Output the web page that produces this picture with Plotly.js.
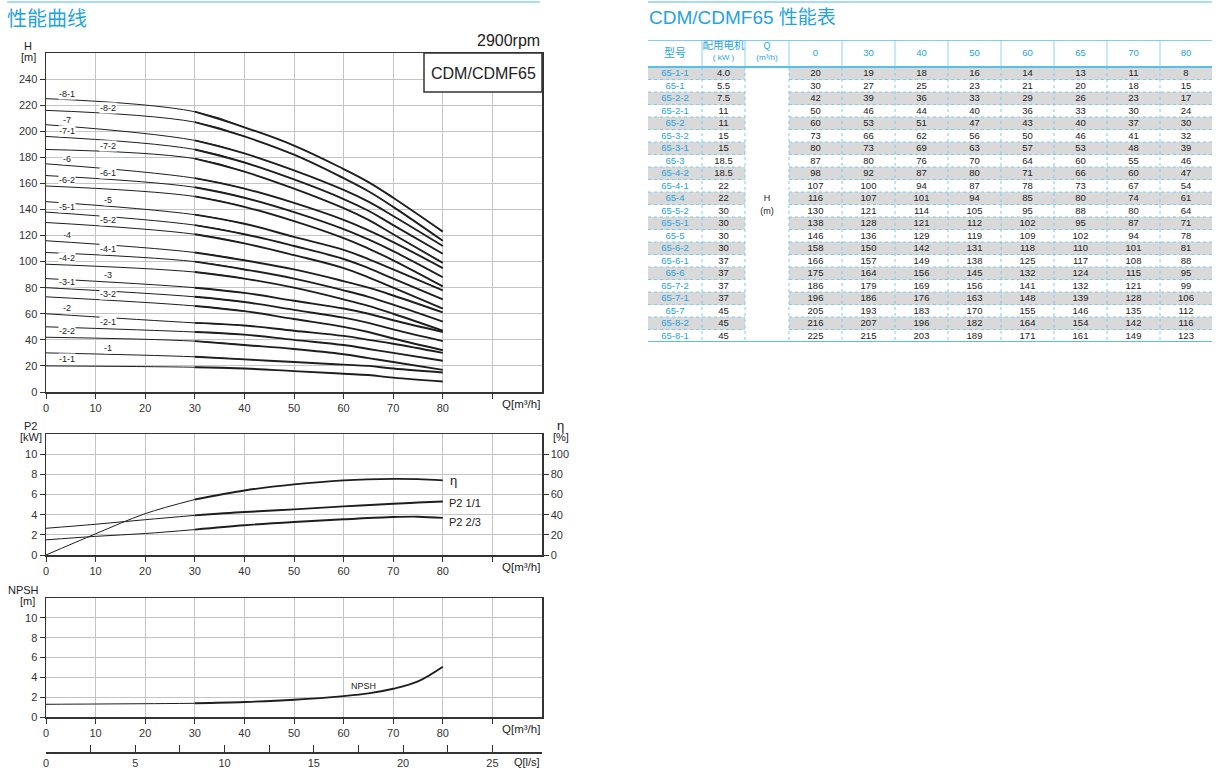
<!DOCTYPE html>
<html><head><meta charset="utf-8">
<script src="https://cdn.plot.ly/plotly-3.0.1.min.js"></script>
<style>html,body{margin:0;padding:0;background:#fff}#chart{width:1219px;height:782px}</style>
</head><body><div id="chart"></div>
<script>
// ---------------- DATA ----------------
const flowPoints = [0, 30, 40, 50, 60, 65, 70, 80];
const models = ['65-1-1','65-1','65-2-2','65-2-1','65-2','65-3-2','65-3-1','65-3','65-4-2','65-4-1','65-4','65-5-2','65-5-1','65-5','65-6-2','65-6-1','65-6','65-7-2','65-7-1','65-7','65-8-2','65-8-1'];
const motorKW = ['4.0','5.5','7.5','11','11','15','15','18.5','18.5','22','22','30','30','30','30','37','37','37','37','45','45','45'];
const h_65_1_1 = [20,19,18,16,14,13,11,8];
const h_65_1   = [30,27,25,23,21,20,18,15];
const h_65_2_2 = [42,39,36,33,29,26,23,17];
const h_65_2_1 = [50,46,44,40,36,33,30,24];
const h_65_2   = [60,53,51,47,43,40,37,30];
const h_65_3_2 = [73,66,62,56,50,46,41,32];
const h_65_3_1 = [80,73,69,63,57,53,48,39];
const h_65_3   = [87,80,76,70,64,60,55,46];
const h_65_4_2 = [98,92,87,80,71,66,60,47];
const h_65_4_1 = [107,100,94,87,78,73,67,54];
const h_65_4   = [116,107,101,94,85,80,74,61];
const h_65_5_2 = [130,121,114,105,95,88,80,64];
const h_65_5_1 = [138,128,121,112,102,95,87,71];
const h_65_5   = [146,136,129,119,109,102,94,78];
const h_65_6_2 = [158,150,142,131,118,110,101,81];
const h_65_6_1 = [166,157,149,138,125,117,108,88];
const h_65_6   = [175,164,156,145,132,124,115,95];
const h_65_7_2 = [186,179,169,156,141,132,121,99];
const h_65_7_1 = [196,186,176,163,148,139,128,106];
const h_65_7   = [205,193,183,170,155,146,135,112];
const h_65_8_2 = [216,207,196,182,164,154,142,116];
const h_65_8_1 = [225,215,203,189,171,161,149,123];
const headSeries = [h_65_1_1,h_65_1,h_65_2_2,h_65_2_1,h_65_2,h_65_3_2,h_65_3_1,h_65_3,h_65_4_2,h_65_4_1,h_65_4,h_65_5_2,h_65_5_1,h_65_5,h_65_6_2,h_65_6_1,h_65_6,h_65_7_2,h_65_7_1,h_65_7,h_65_8_2,h_65_8_1];
const labelColumn = ['A','B','A','B','A','B','A','B','A','B','A','B','A','B','A','B','A','B','A','A','B','A'];

const qPower = [0,10,20,30,40,50,60,70,75,80];
const etaPct = [0,21,41,55,64,70,74,75.5,75.2,74];
const p2Full = [2.65,3.05,3.5,3.93,4.26,4.52,4.82,5.08,5.2,5.31];
const p2TwoThird = [1.5,1.85,2.13,2.52,2.95,3.28,3.54,3.77,3.8,3.68];

const qNpsh = [0,10,20,30,40,50,60,65,70,75,80];
const npsh = [1.28,1.31,1.34,1.38,1.51,1.74,2.11,2.38,2.85,3.59,5.07];

const qTicks = [0,10,20,30,40,50,60,70,80];
const qMinorTicks = [90];
const lsTicks = [0,5,10,15,20,25];
const lsMinorTicks = [2.5,7.5,12.5,17.5,22.5];

const tableHeadTop = ['型号','配用电机','Q'];
const tableHeadSub = ['','( kW )','(m³/h)'];
const hUnitLabel = ['H','(m)'];

// ---------------- HELPERS ----------------
const W = 1219, HT = 782;
const px = x => x / W;
const py = y => 1 - y / HT;
const FONT = 'Liberation Sans, Arial, Noto Sans CJK SC, sans-serif';
const CJK = 'Noto Sans CJK SC, Liberation Sans, sans-serif';
const BLUE = '#1fa3e2';
const INK = '#1e1e1e';
const GRID = '#c4c4c4';
const SM = 1.15;

const upto = (xs, ys, lim) => { const a=[],b=[]; xs.forEach((x,i)=>{ if(x<=lim){a.push(x);b.push(ys[i]);} }); return [a,b]; };
const from = (xs, ys, lim) => { const a=[],b=[]; xs.forEach((x,i)=>{ if(x>=lim){a.push(x);b.push(ys[i]);} }); return [a,b]; };

const traces = [];
headSeries.forEach((hs) => {
  traces.push({type:'scatter', mode:'lines', x: flowPoints.slice(0,3), y: hs.slice(0,3), xaxis:'x', yaxis:'y',
    line:{color:INK, width:1, shape:'spline', smoothing:SM}, hoverinfo:'skip'});
  traces.push({type:'scatter', mode:'lines', x: flowPoints.slice(1), y: hs.slice(1), xaxis:'x', yaxis:'y',
    line:{color:INK, width:1.9, shape:'spline', smoothing:SM}, hoverinfo:'skip'});
});
function thinThick(xs, ys, xa, ya) {
  const [a1,b1] = upto(xs, ys, 30), [a2,b2] = from(xs, ys, 30);
  traces.push({type:'scatter', mode:'lines', x:a1, y:b1, xaxis:xa, yaxis:ya, line:{color:INK, width:1, shape:'spline'}, hoverinfo:'skip'});
  traces.push({type:'scatter', mode:'lines', x:a2, y:b2, xaxis:xa, yaxis:ya, line:{color:INK, width:1.9, shape:'spline'}, hoverinfo:'skip'});
}
thinThick(qPower, etaPct, 'x2', 'y3');
thinThick(qPower, p2Full, 'x2', 'y2');
thinThick(qPower, p2TwoThird, 'x2', 'y2');
thinThick(qNpsh, npsh, 'x3', 'y4');
traces.push({type:'scatter', mode:'lines', x: qNpsh.map(q => q/3.6), y: qNpsh.map(() => 0), xaxis:'x4', yaxis:'y5', line:{color:'rgba(0,0,0,0)', width:0}, hoverinfo:'skip'});

// ---------------- TABLE (cartesian) ----------------
const colW = [54,43,44,53,53,53,53,53,53,53,52];
const colEdges = [0]; colW.forEach(w => colEdges.push(colEdges[colEdges.length-1] + w));
const colMid = colW.map((w,j) => colEdges[j] + w/2);
const nRows = models.length;
const rowEdges = Array.from({length:nRows+1}, (_,i) => i);
const HEAD = 27/12.5;
const tableCols = [models, motorKW];
flowPoints.forEach((q, j) => tableCols.push(headSeries.map(h => String(h[j]))));
const tableColX = [colMid[0], colMid[1]].concat(flowPoints.map((q,j) => colMid[j+3]));
traces.push({type:'heatmap', xaxis:'x5', yaxis:'y6', x: colEdges, y: rowEdges,
  z: models.map((m,i) => colW.map((w,j) => (i % 2 === 0 && j !== 2) ? 1 : 0)),
  colorscale:[[0,'#ffffff'],[1,'#d9d9d9']], zmin:0, zmax:1, showscale:false, hoverinfo:'skip'});
tableCols.forEach((col, j) => {
  traces.push({type:'scatter', mode:'text', xaxis:'x5', yaxis:'y6', x: col.map(() => tableColX[j]), y: col.map((v,i) => i + 0.55),
    text: col, textposition:'middle center', cliponaxis:false,
    textfont:{family:FONT, size:9.5, color: j===0 ? BLUE : '#222'}, hoverinfo:'skip'});
});
traces.push({type:'scatter', mode:'text', xaxis:'x5', yaxis:'y6', x:[colMid[2], colMid[2]], y:[10.55, 11.55], text:hUnitLabel,
  textfont:{family:FONT, size:9, color:'#222'}, cliponaxis:false, hoverinfo:'skip'});
const headerNums = flowPoints.map(String);
traces.push({type:'scatter', mode:'text', xaxis:'x5', yaxis:'y6', x: headerNums.map((v,k) => colMid[k+3]), y: headerNums.map(() => -1.05),
  text: headerNums, textfont:{family:FONT, size:9.5, color:BLUE}, cliponaxis:false, hoverinfo:'skip'});
traces.push({type:'scatter', mode:'text', xaxis:'x5', yaxis:'y6', x:[colMid[0]], y:[-1.05], text:[tableHeadTop[0]],
  textfont:{family:CJK, size:11, color:BLUE}, cliponaxis:false, hoverinfo:'skip'});
traces.push({type:'scatter', mode:'text', xaxis:'x5', yaxis:'y6', x:[colMid[1], colMid[2]], y:[-1.62,-1.62], text:[tableHeadTop[1], tableHeadTop[2]],
  textfont:{family:CJK, size:[10.5,9.5], color:BLUE}, cliponaxis:false, hoverinfo:'skip'});
traces.push({type:'scatter', mode:'text', xaxis:'x5', yaxis:'y6', x:[colMid[1], colMid[2]], y:[-0.7,-0.7], text:[tableHeadSub[1], tableHeadSub[2]],
  textfont:{family:FONT, size:8, color:BLUE}, cliponaxis:false, hoverinfo:'skip'});

// ---------------- LAYOUT ----------------
const xBase = {domain:[px(46), px(542)], range:[0,100], tickvals:qTicks,
  minor:{tickvals:qMinorTicks, ticks:'outside', ticklen:5, tickcolor:'#333', showgrid:true, gridcolor:GRID, gridwidth:1},
  ticks:'outside', ticklen:5, tickcolor:'#333', showline:true, linecolor:'#333', linewidth:1.5, mirror:true,
  showgrid:true, gridcolor:GRID, gridwidth:1, zeroline:false, tickfont:{family:FONT, size:11, color:'#333'}, fixedrange:true};
const yBase = {ticks:'outside', ticklen:5, tickcolor:'#333', showline:true, linecolor:'#333', linewidth:1.5, mirror:true,
  showgrid:true, gridcolor:GRID, gridwidth:1, zeroline:false, tickfont:{family:FONT, size:11, color:'#333'}, fixedrange:true};

const ann = [];
const txt = (x, y, text, size, opts={}) => ann.push(Object.assign({xref:'paper', yref:'paper', x:px(x), y:py(y), text,
  showarrow:false, font:{family:FONT, size, color:'#222'}, xanchor:'center', yanchor:'middle'}, opts));

txt(5, 18, '性能曲线', 20, {xanchor:'left', font:{family:CJK, size:20, color:BLUE}});
txt(647, 18, 'CDM/CDMF65 性能表', 19, {xanchor:'left', font:{family:'Liberation Sans, Noto Sans CJK SC', size:19, color:BLUE}});
txt(28, 46, 'H', 11);
txt(28, 57, '[m]', 11);
txt(542, 41, '2900rpm', 16, {xanchor:'right'});
txt(483, 73, 'CDM/CDMF65', 16);
txt(542, 404, 'Q[m³/h]', 11.5, {xanchor:'right'});
txt(30, 426, 'P2', 11);
txt(31, 437, '[kW]', 11);
txt(560, 425, 'η', 13);
txt(561, 437, '[%]', 11);
txt(542, 567, 'Q[m³/h]', 11.5, {xanchor:'right'});
txt(23, 590, 'NPSH', 11);
txt(27, 601, '[m]', 11);
txt(542, 729, 'Q[m³/h]', 11.5, {xanchor:'right'});
txt(542, 762, 'Q[l/s]', 11, {xanchor:'right'});

headSeries.forEach((hs, i) => {
  const q = labelColumn[i] === 'A' ? 4.3 : 12.5;
  const h = hs[0] + (hs[1] - hs[0]) * q / 30;
  ann.push({xref:'x', yref:'y', x:q, y:h, yshift:7, text: models[i].replace('65',''), showarrow:false,
    font:{family:FONT, size:9, color:'#222'}, bgcolor:'#ffffff', borderpad:0, xanchor:'center', yanchor:'middle'});
});
const last = a => a[a.length-1];
ann.push({xref:'x2', yref:'y3', x:81, y:last(etaPct), text:'η', showarrow:false, xanchor:'left', yanchor:'middle', font:{family:FONT, size:13, color:'#222'}});
ann.push({xref:'x2', yref:'y2', x:80.8, y:last(p2Full), yshift:-2, text:'P2 1/1', showarrow:false, xanchor:'left', yanchor:'middle', font:{family:FONT, size:11, color:'#222'}});
ann.push({xref:'x2', yref:'y2', x:80.8, y:last(p2TwoThird), yshift:-4, text:'P2 2/3', showarrow:false, xanchor:'left', yanchor:'middle', font:{family:FONT, size:11, color:'#222'}});
ann.push({xref:'x3', yref:'y4', x:64, y:npsh[7], yshift:7, text:'NPSH', showarrow:false, xanchor:'center', yanchor:'middle', font:{family:FONT, size:9, color:'#222'}});

const shapes = [
  {type:'line', xref:'paper', yref:'paper', x0:px(7), x1:px(540), y0:py(2), y1:py(2), line:{color:'#a8dcf5', width:2}},
  {type:'line', xref:'paper', yref:'paper', x0:px(648), x1:px(1212), y0:py(2), y1:py(2), line:{color:'#a8dcf5', width:2}},
  {type:'rect', xref:'paper', yref:'paper', x0:px(424), x1:px(542), y0:py(92), y1:py(53), line:{color:'#333', width:1.5}, fillcolor:'#ffffff', layer:'above'},
  {type:'line', xref:'x3', yref:'y4', x0:0, x1:100, y0:8, y1:8, line:{color:'#e2e2e2', width:1.2}, layer:'below'}
];
const TL = '#8fd3f2', TD = '#7fcaf0';
for (let j = 1; j < colEdges.length - 1; j++) {
  shapes.push({type:'line', xref:'x5', yref:'y6', x0:colEdges[j], x1:colEdges[j], y0:-HEAD, y1:0, line:{color:TL, width:1}, layer:'above'});
  shapes.push({type:'line', xref:'x5', yref:'y6', x0:colEdges[j], x1:colEdges[j], y0:0, y1:nRows, line:{color:TD, width:1, dash:'dot'}, layer:'above'});
}
for (let i = 1; i < nRows; i++) {
  shapes.push({type:'line', xref:'x5', yref:'y6', x0:0, x1:colEdges[2], y0:i, y1:i, line:{color:TD, width:1, dash:'dot'}, layer:'above'});
  shapes.push({type:'line', xref:'x5', yref:'y6', x0:colEdges[3], x1:colEdges[colEdges.length-1], y0:i, y1:i, line:{color:TD, width:1, dash:'dot'}, layer:'above'});
}
[[-HEAD,1.5],[0,2],[nRows,2]].forEach(([yv,w]) => shapes.push({type:'line', xref:'x5', yref:'y6', x0:0, x1:colEdges[colEdges.length-1], y0:yv, y1:yv, line:{color:'#56bfec', width:w}, layer:'above'}));

const layout = {
  width:W, height:HT, margin:{l:0, r:0, t:0, b:0}, paper_bgcolor:'#fff', plot_bgcolor:'#fff', showlegend:false,
  xaxis: Object.assign({}, xBase, {anchor:'y'}),
  yaxis: Object.assign({}, yBase, {domain:[py(392), py(53)], range:[0,260], tickvals:[0,20,40,60,80,100,120,140,160,180,200,220,240], anchor:'x'}),
  xaxis2: Object.assign({}, xBase, {anchor:'y2'}),
  yaxis2: Object.assign({}, yBase, {domain:[py(555), py(434)], range:[0,12], tickvals:[0,2,4,6,8,10], anchor:'x2'}),
  yaxis3: Object.assign({}, yBase, {overlaying:'y2', side:'right', range:[0,120], tickvals:[0,20,40,60,80,100], showgrid:false, mirror:false, anchor:'x2'}),
  xaxis3: Object.assign({}, xBase, {anchor:'y4'}),
  yaxis4: Object.assign({}, yBase, {domain:[py(717), py(598)], range:[0,12], tickvals:[0,2,4,6,8,10], anchor:'x3'}),
  xaxis4: {domain:[px(46), px(542)], range:[0,100/3.6], anchor:'y5', tickvals:lsTicks, ticks:'inside', ticklen:7,
    minor:{tickvals:lsMinorTicks, ticks:'inside', ticklen:7, tickcolor:'#333', showgrid:false},
    tickcolor:'#333', showline:true, linecolor:'#333', linewidth:1.5, showgrid:false, zeroline:false, tickfont:{family:FONT, size:11, color:'#333'}, fixedrange:true},
  yaxis5: {domain:[py(752), py(750)], range:[0,1], visible:false, anchor:'x4', fixedrange:true},
  xaxis5: {domain:[px(648), px(1212)], range:[0, colEdges[colEdges.length-1]], visible:false, anchor:'y6', fixedrange:true},
  yaxis6: {domain:[py(342), py(40)], range:[nRows, -HEAD], visible:false, anchor:'x5', fixedrange:true},
  annotations: ann,
  shapes: shapes
};

Plotly.newPlot('chart', traces, layout, {staticPlot:true, displayModeBar:false});
</script></body></html>
